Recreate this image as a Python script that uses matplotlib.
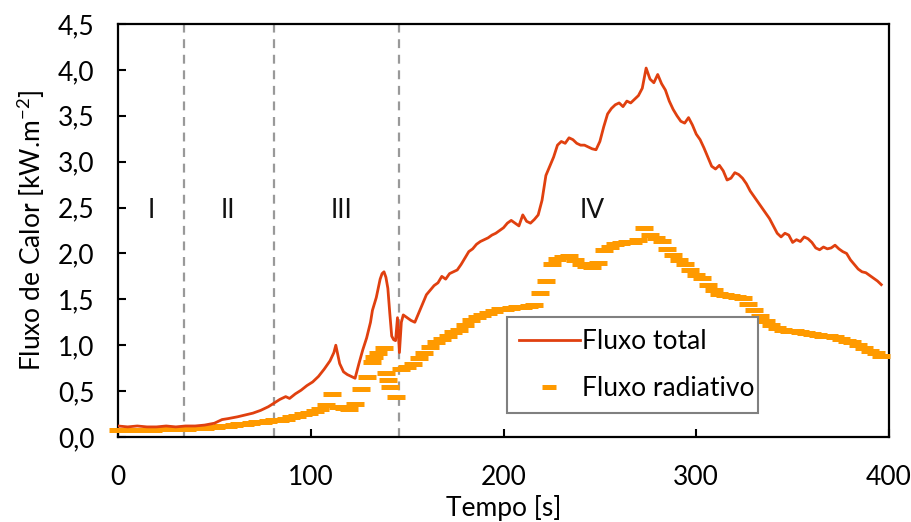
import numpy as np
import matplotlib
matplotlib.use("Agg")
import matplotlib.pyplot as plt
from matplotlib.ticker import FuncFormatter

plt.rcParams['font.family'] = ['Lato', 'DejaVu Sans']
plt.rcParams['mathtext.default'] = 'regular'

# ---------------- data ----------------
total_t = [0, 5, 10, 15, 20, 25, 30, 35, 40, 45,
           50, 54, 57, 62, 66, 70, 74, 78, 81, 84,
           87, 89, 92, 95, 98, 101, 104, 107, 110, 112,
           113, 114, 115, 117, 119, 121, 123, 125, 127, 129,
           131, 132, 134, 135, 136, 137, 138, 139, 140, 141,
           142, 143, 144, 145, 146, 147, 148, 150, 152, 154,
           156, 158, 160, 162, 164, 166, 168, 170, 172, 174,
           176, 178, 180, 182, 184, 186, 188, 190, 192, 194,
           196, 198, 200, 202, 204, 206, 208, 210, 212, 214,
           216, 218, 220, 222, 224, 226, 228, 230, 232, 234,
           236, 238, 240, 242, 244, 246, 248, 250, 252, 254,
           256, 258, 260, 262, 264, 266, 268, 270, 272, 274,
           276, 278, 280, 282, 284, 286, 288, 290, 292, 294,
           296, 298, 300, 302, 304, 306, 308, 310, 312, 314,
           316, 318, 320, 322, 324, 326, 328, 330, 332, 334,
           336, 338, 340, 342, 344, 346, 348, 350, 352, 354,
           356, 358, 360, 362, 364, 366, 368, 370, 372, 374,
           376, 378, 380, 382, 384, 386, 388, 390, 392, 394,
           396]
total_v = [0.12, 0.11, 0.12, 0.11, 0.11, 0.12, 0.11, 0.12, 0.12, 0.13,
           0.15, 0.19, 0.20, 0.22, 0.24, 0.26, 0.29, 0.33, 0.37, 0.41,
           0.44, 0.42, 0.47, 0.51, 0.56, 0.60, 0.66, 0.74, 0.83, 0.92,
           1.00, 0.90, 0.80, 0.71, 0.68, 0.66, 0.64, 0.80, 0.95, 1.08,
           1.25, 1.38, 1.52, 1.62, 1.72, 1.78, 1.80, 1.74, 1.62, 1.35,
           1.10, 1.06, 1.05, 1.30, 0.92, 1.25, 1.33, 1.30, 1.27, 1.25,
           1.35, 1.45, 1.55, 1.60, 1.65, 1.68, 1.75, 1.72, 1.78, 1.80,
           1.82, 1.88, 1.95, 2.02, 2.05, 2.10, 2.13, 2.15, 2.17, 2.20,
           2.22, 2.25, 2.28, 2.33, 2.36, 2.33, 2.30, 2.42, 2.35, 2.33,
           2.37, 2.42, 2.58, 2.85, 2.95, 3.05, 3.18, 3.22, 3.20, 3.26,
           3.24, 3.20, 3.18, 3.18, 3.16, 3.14, 3.13, 3.22, 3.38, 3.52,
           3.58, 3.62, 3.64, 3.60, 3.66, 3.64, 3.68, 3.72, 3.80, 4.02,
           3.90, 3.86, 3.95, 3.85, 3.78, 3.66, 3.57, 3.50, 3.44, 3.42,
           3.48, 3.40, 3.30, 3.24, 3.15, 3.05, 2.95, 2.92, 2.96, 2.90,
           2.80, 2.82, 2.88, 2.86, 2.82, 2.76, 2.68, 2.62, 2.56, 2.50,
           2.44, 2.38, 2.30, 2.22, 2.18, 2.22, 2.20, 2.12, 2.15, 2.13,
           2.18, 2.16, 2.12, 2.06, 2.04, 2.07, 2.05, 2.06, 2.09, 2.05,
           2.02, 2.00, 1.93, 1.88, 1.83, 1.80, 1.79, 1.76, 1.73, 1.70,
           1.66]

rad_t = [0, 3, 6, 9, 12, 15, 18, 21, 24, 27,
         30, 33, 36, 39, 42, 45, 48, 51, 54, 57,
         60, 63, 66, 69, 72, 75, 78, 81, 84, 87,
         90, 93, 96, 99, 102, 105, 108, 111, 114, 117,
         120, 123, 126, 129, 132, 135, 138, 141, 144, 147,
         150, 153, 156, 159, 162, 165, 168, 171, 174, 177,
         180, 183, 186, 189, 192, 195, 198, 201, 204, 207,
         210, 213, 216, 219, 222, 225, 228, 231, 234, 237,
         240, 243, 246, 249, 252, 255, 258, 261, 264, 267,
         270, 273, 276, 279, 282, 285, 288, 291, 294, 297,
         300, 303, 306, 309, 312, 315, 318, 321, 324, 327,
         330, 333, 336, 339, 342, 345, 348, 351, 354, 357,
         360, 363, 366, 369, 372, 375, 378, 381, 384, 387,
         390, 393, 396,
         133, 139, 140]
rad_v = [0.08, 0.08, 0.08, 0.08, 0.08, 0.08, 0.08, 0.09, 0.09, 0.09,
         0.09, 0.09, 0.09, 0.10, 0.10, 0.10, 0.11, 0.11, 0.12, 0.12,
         0.13, 0.14, 0.14, 0.15, 0.16, 0.16, 0.17, 0.18, 0.19, 0.20,
         0.22, 0.23, 0.25, 0.26, 0.28, 0.30, 0.35, 0.47, 0.33, 0.32,
         0.31, 0.36, 0.52, 0.65, 0.82, 0.92, 0.97, 0.55, 0.44, 0.74,
         0.76, 0.80, 0.86, 0.92, 0.98, 1.03, 1.07, 1.10, 1.14, 1.17,
         1.22, 1.27, 1.31, 1.33, 1.35, 1.37, 1.39, 1.40, 1.41, 1.42,
         1.42, 1.43, 1.44, 1.57, 1.70, 1.88, 1.94, 1.96, 1.97, 1.93,
         1.88, 1.86, 1.85, 1.90, 2.04, 2.07, 2.10, 2.11, 2.12, 2.13,
         2.15, 2.28, 2.20, 2.17, 2.14, 2.05, 1.98, 1.93, 1.89, 1.82,
         1.77, 1.73, 1.66, 1.60, 1.56, 1.55, 1.54, 1.53, 1.51, 1.45,
         1.38, 1.32, 1.26, 1.22, 1.19, 1.17, 1.16, 1.15, 1.14, 1.13,
         1.12, 1.11, 1.10, 1.10, 1.09, 1.07, 1.05, 1.03, 1.00, 0.97,
         0.94, 0.91, 0.88,
         0.87, 0.70, 0.62]

phase_bounds = [34, 81, 146]
phase_labels = ["I", "II", "III", "IV"]
phase_label_x = [17.5, 57, 116, 246]
phase_label_y = 2.47

x_ticks = [0, 100, 200, 300, 400]
y_ticks = [0.0, 0.5, 1.0, 1.5, 2.0, 2.5, 3.0, 3.5, 4.0, 4.5]

RED = "#E0400F"
ORANGE = "#FF9A00"
FS = 19

# ---------------- figure ----------------
fig = plt.figure(figsize=(9.12, 5.22), dpi=100)
ax = fig.add_axes([118 / 912, 1 - 437 / 522, (889 - 118) / 912, (437 - 24) / 522])

order = np.argsort(rad_t, kind="stable")
ax.plot(np.array(rad_t)[order], np.array(rad_v)[order], linestyle="none",
        marker="_", markersize=13, markeredgewidth=3.6, color=ORANGE,
        label="Fluxo radiativo", zorder=3, clip_on=False)
ax.plot(total_t, total_v, color=RED, lw=2.0, label="Fluxo total", zorder=4)

for b in phase_bounds:
    ax.axvline(b, color="#999999", lw=1.6, ls=(0, (4, 3)), zorder=2)

for x, lab in zip(phase_label_x, phase_labels):
    ax.text(x, phase_label_y, lab, ha="center", va="center", fontsize=FS,
            color="#111111")

ax.set_xlim(0, 400)
ax.set_ylim(0, 4.5)
ax.set_xticks(x_ticks)
ax.set_yticks(y_ticks)
ax.yaxis.set_major_formatter(FuncFormatter(lambda v, p: f"{v:.1f}".replace(".", ",")))
ax.tick_params(axis="both", direction="in", length=6, width=1.5, labelsize=FS,
               colors="black")
ax.tick_params(axis="y", pad=17)
ax.tick_params(axis="x", pad=20)
for s in ax.spines.values():
    s.set_linewidth(1.6)
    s.set_color("black")

ax.set_xlabel("Tempo [s]", fontsize=FS, labelpad=4)
ax.set_ylabel("Fluxo de Calor [kW.m$^{-2}$]", fontsize=FS, labelpad=8)

handles, labels = ax.get_legend_handles_labels()
h = {l: hh for hh, l in zip(handles, labels)}
leg = ax.legend([h["Fluxo total"], h["Fluxo radiativo"]], ["Fluxo total", "Fluxo radiativo"],
                loc="lower left", bbox_to_anchor=(0.5045, 0.058, 0.325, 0.22),
                mode="expand", borderaxespad=0, fontsize=FS, frameon=True, fancybox=False,
                handlelength=2.3, handletextpad=0.1, borderpad=0.45, labelspacing=0.85,
                markerscale=0.8, numpoints=1)
leg.get_frame().set_edgecolor("#808080")
leg.get_frame().set_linewidth(1.5)
leg.get_frame().set_alpha(1)

fig.savefig("out.png", dpi=100)
